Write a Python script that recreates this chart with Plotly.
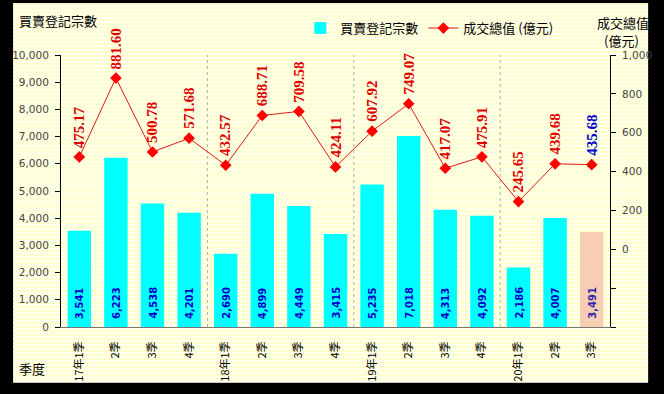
import plotly.graph_objects as go
import urllib.parse

# ---- data ----
quarter_labels = ["17年1季", "2季", "3季", "4季",
                  "18年1季", "2季", "3季", "4季",
                  "19年1季", "2季", "3季", "4季",
                  "20年1季", "2季", "3季"]
registrations = [3541, 6223, 4538, 4201, 2690, 4899, 4449, 3415,
                 5235, 7018, 4313, 4092, 2186, 4007, 3491]
total_value = [475.17, 881.60, 500.78, 571.68, 432.57, 688.71, 709.58, 424.11,
               607.92, 749.07, 417.07, 475.91, 245.65, 439.68, 435.68]
left_ticks = [0, 1000, 2000, 3000, 4000, 5000, 6000, 7000, 8000, 9000, 10000]
right_ticks = [-400, -200, 0, 200, 400, 600, 800, 1000]
right_ticktext = ["", "", "0", "200", "400", "600", "800", "1,000"]

W, H = 664, 394
ML, MR, MT, MB = 53, 49, 55, 66
PW, PH = W - ML - MR, H - MT - MB

def px_x(p):
    return (p - ML) / PW

def px_y(p):
    return (H - MB - p) / PH

n = len(quarter_labels)
xs = list(range(n))
CJK = "Noto Sans CJK TC"

bar_colors = ["#00FFFF"] * (n - 1) + ["#F7CDB3"]

fig = go.Figure()
fig.add_trace(go.Bar(
    x=xs, y=registrations, name="買賣登記宗數",
    marker=dict(color=bar_colors, line=dict(width=0)),
    yaxis="y",
))
fig.add_trace(go.Scatter(
    x=xs, y=total_value, name="成交總值 (億元)", yaxis="y2",
    mode="lines+markers",
    line=dict(color="#E01818", width=1),
    marker=dict(symbol="diamond", size=9, color="#FF0000"),
))

annotations = []
# bar value labels
for i, v in enumerate(registrations):
    annotations.append(dict(
        x=i, y=0, xref="x", yref="y", text=f"<b>{v:,}</b>", showarrow=False,
        textangle=-90, yanchor="bottom", xanchor="center", yshift=6,
        font=dict(family="DejaVu Sans", size=10,
                  color="#0000CC" if i < n - 1 else "#3322AA"),
    ))
# line value labels
for i, v in enumerate(total_value):
    annotations.append(dict(
        x=i, y=v, xref="x", yref="y2", text=f"<b>{v:.2f}</b>", showarrow=False,
        textangle=-90, yanchor="bottom", xanchor="center", yshift=7,
        font=dict(family="Liberation Serif", size=15,
                  color="#E00000" if i < n - 1 else "#0000CC"),
    ))
# titles
annotations += [
    dict(x=px_x(8), y=px_y(20), xref="paper", yref="paper", text="買賣登記宗數",
         showarrow=False, xanchor="left", yanchor="middle",
         font=dict(family=CJK, size=13, color="black")),
    dict(x=px_x(628), y=px_y(22), xref="paper", yref="paper", text="成交總值",
         showarrow=False, xanchor="center", yanchor="middle",
         font=dict(family=CJK, size=13, color="black")),
    dict(x=px_x(627), y=px_y(40), xref="paper", yref="paper", text="(億元)",
         showarrow=False, xanchor="center", yanchor="middle",
         font=dict(family=CJK, size=13, color="black")),
    dict(x=px_x(8), y=px_y(370), xref="paper", yref="paper", text="季度",
         showarrow=False, xanchor="left", yanchor="middle",
         font=dict(family=CJK, size=13, color="black")),
]

# year separators
shapes = []
for i in range(1, n):
    if "年" in quarter_labels[i]:
        shapes.append(dict(type="line", xref="x", yref="paper", x0=i - 0.5, x1=i - 0.5,
                           y0=0, y1=1, line=dict(color="#B0B0B0", width=1, dash="dot"),
                           layer="below"))

# striped background with dark shadow frame (svg)
stripes = "".join(
    f'<rect x="4" y="{y}" width="650" height="2" fill="#FFFFCC"/>' for y in range(3, 383, 4)
)
svg = (f'<svg xmlns="http://www.w3.org/2000/svg" width="{W}" height="{H}">'
       f'<rect width="{W}" height="{H}" fill="#000"/>'
       f'<rect x="4" y="3" width="650" height="381" fill="#FFFFF0"/>'
       f'{stripes}</svg>')
svg_uri = "data:image/svg+xml;charset=utf-8," + urllib.parse.quote(svg)

fig.update_layout(
    width=W, height=H,
    margin=dict(l=ML, r=MR, t=MT, b=MB, pad=0),
    paper_bgcolor="#000000",
    plot_bgcolor="rgba(0,0,0,0)",
    bargap=0.36,
    showlegend=True,
    legend=dict(orientation="h", x=px_x(298), y=px_y(28), xanchor="left", yanchor="middle",
                font=dict(family=CJK, size=13, color="black"), bgcolor="rgba(0,0,0,0)",
                itemwidth=30, tracegroupgap=0),
    xaxis=dict(range=[-0.5, n - 0.5], tickvals=xs, ticktext=quarter_labels,
               tickangle=-90, showgrid=False, zeroline=False, showline=True,
               linecolor="#777777", linewidth=1, ticks="",
               tickfont=dict(family=CJK, size=11, color="black"),
               ticklabelstandoff=9),
    yaxis=dict(range=[0, 10000], tickvals=left_ticks, tickformat=",",
               showgrid=False, zeroline=False, showline=True, linecolor="black",
               linewidth=1, ticks="outside", ticklen=5, tickcolor="black",
               tickfont=dict(family="DejaVu Sans", size=10.5, color="#444444"),
               ticklabelstandoff=4),
    yaxis2=dict(range=[-400, 1000], tickvals=right_ticks, ticktext=right_ticktext,
                overlaying="y", side="right", showgrid=False, zeroline=False,
                showline=True, linecolor="black", linewidth=1, ticks="outside",
                ticklen=5, tickcolor="black",
                tickfont=dict(family="DejaVu Sans", size=10.5, color="#444444"),
                ticklabelstandoff=4),
    annotations=annotations,
    shapes=shapes,
    images=[dict(source=svg_uri, xref="paper", yref="paper",
                 x=px_x(0), y=px_y(0), sizex=W / PW, sizey=H / PH,
                 xanchor="left", yanchor="top", sizing="stretch", layer="below")],
)

fig.write_html("out.html", config={"displayModeBar": False},
               post_script="document.body.style.margin='0px';")
